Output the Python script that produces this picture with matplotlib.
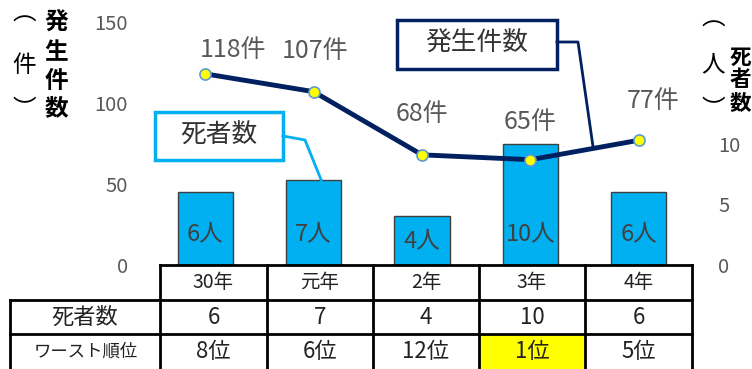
import matplotlib
matplotlib.use('Agg')
import matplotlib.pyplot as plt
from matplotlib.patches import Rectangle
from matplotlib.lines import Line2D

plt.rcParams['font.family'] = ['Noto Sans CJK JP', 'DejaVu Sans']

# データ
nendo = ['30年', '元年', '2年', '3年', '4年']
hassei = [118, 107, 68, 65, 77]          # 発生件数
shisha = [6, 7, 4, 10, 6]                # 死者数
worst = ['8位', '6位', '12位', '1位', '5位']  # ワースト順位

# 色
navy = '#002060'
sky = '#00B0F0'
grey = '#595959'

W, H = 752, 369
fig = plt.figure(figsize=(W / 100, H / 100), dpi=100)

# グラフ本体（左: 発生件数, 右: 死者数）
ax = fig.add_axes([151 / W, 1 - 265 / H, (693 - 151) / W, (265 - 22) / H])
ax2 = ax.twinx()
ax.set_zorder(ax2.get_zorder() + 1)
ax.patch.set_visible(False)

x = list(range(len(nendo)))
ax2.bar(x, shisha, width=0.51, color=sky, edgecolor='#404040', linewidth=1)
ax.plot(x, hassei, color=navy, linewidth=3.5, marker='o', markersize=8,
        markerfacecolor='#FFFF00', markeredgecolor='#5B9BD5', markeredgewidth=1.2)

ax.set_xlim(-0.5, len(nendo) - 0.5)
ax.set_ylim(0, 150)
ax2.set_ylim(0, 20)
ax.set_yticks([0, 50, 100, 150])
ax2.set_yticks([0, 5, 10])
ax.set_xticks([])
for a in (ax, ax2):
    for s in a.spines.values():
        s.set_visible(False)
    a.tick_params(axis='y', length=0, labelsize=14.5, labelcolor=grey)
ax.tick_params(axis='y', pad=16.5)
ax2.tick_params(axis='y', pad=18)

# 件数ラベル
label_off = [(28, 24), (1, 41), (0, 41), (0, 38), (14, 39)]
for i, v in enumerate(hassei):
    ax.annotate(f'{v}件', (i, v), xytext=label_off[i], textcoords='offset pixels',
                ha='center', va='center', fontsize=18, color=grey)

# 死者数ラベル（棒の中）
for i, v in enumerate(shisha):
    ax2.text(i, min(v * 0.5, 2.6), f'{v}人', ha='center', va='center',
             fontsize=17, color='#404040')

# 注記・表用のオーバーレイ（ピクセル座標）
ov = fig.add_axes([0, 0, 1, 1], zorder=10)
ov.set_xlim(0, W)
ov.set_ylim(H, 0)
ov.axis('off')

def to_px(a, xy):
    dx, dy = a.transData.transform(xy)
    return dx, H - dy

# 死者数の吹き出し
ov.add_patch(Rectangle((155, 112), 128, 48, facecolor='white', edgecolor=sky, linewidth=2.5))
ov.text(219, 136, '死者数', ha='center', va='center', fontsize=18.5, color='#333333')
bx, by = to_px(ax2, (1.07, shisha[1]))
ov.add_line(Line2D([283, 305, bx], [136, 140, by], color=sky, linewidth=2))

# 発生件数の吹き出し
ov.add_patch(Rectangle((397, 20), 160, 49, facecolor='white', edgecolor=navy, linewidth=2.5))
ov.text(477, 44, '発生件数', ha='center', va='center', fontsize=18.5, color='#333333')
lx, ly = to_px(ax, (3.58, hassei[3] + (hassei[4] - hassei[3]) * 0.58))
ov.add_line(Line2D([557, 578, lx], [42, 42, ly], color=navy, linewidth=2))

# 軸タイトル（縦書き、1文字ずつ）
def tate(cx, ys, chars, bold=False, size=16):
    for yy, ch in zip(ys, chars):
        ov.text(cx, yy, ch, ha='center', va='center', fontsize=size,
                fontweight='bold' if bold else 'normal', color='black')

tate(24, [14, 65, 110], '︵件︶', size=17)
tate(56, [22, 52, 81, 108], '発生件数', bold=True, size=17)
tate(713, [19, 65, 110], '︵人︶', size=17)
tate(740, [57, 80, 103], '死者数', bold=True, size=15.5)

# 表
cols = [160, 267, 373, 479, 585, 692]
rows = [265, 300, 334, 369]
left = 10
lw = 2
ov.add_patch(Rectangle((cols[3], rows[2]), cols[4] - cols[3], rows[3] - rows[2],
                       facecolor='#FFFF00', edgecolor='none'))
ov.add_line(Line2D([cols[0], cols[-1]], [rows[0], rows[0]], color='black', linewidth=lw))
for y in rows[1:3]:
    ov.add_line(Line2D([left, cols[-1]], [y, y], color='black', linewidth=lw))
for cx in cols:
    ov.add_line(Line2D([cx, cx], [rows[0], rows[3]], color='black', linewidth=lw))
ov.add_line(Line2D([left, left], [rows[1], rows[3]], color='black', linewidth=lw))

ov.text((left + cols[0]) / 2, (rows[1] + rows[2]) / 2, '死者数', ha='center', va='center',
        fontsize=16, color='#222222')
ov.text((left + cols[0]) / 2 + 1, (rows[2] + rows[3]) / 2, 'ワースト順位', ha='center',
        va='center', fontsize=12.5, color='#222222')
for i in range(len(nendo)):
    cx = (cols[i] + cols[i + 1]) / 2
    ov.text(cx, (rows[0] + rows[1]) / 2, nendo[i], ha='center', va='center', fontsize=14,
            color='#222222')
    ov.text(cx, (rows[1] + rows[2]) / 2, str(shisha[i]), ha='center', va='center', fontsize=16,
            color='#222222')
    ov.text(cx, (rows[2] + rows[3]) / 2, worst[i], ha='center', va='center', fontsize=16,
            color='#222222')

fig.savefig('out.png', dpi=100)
